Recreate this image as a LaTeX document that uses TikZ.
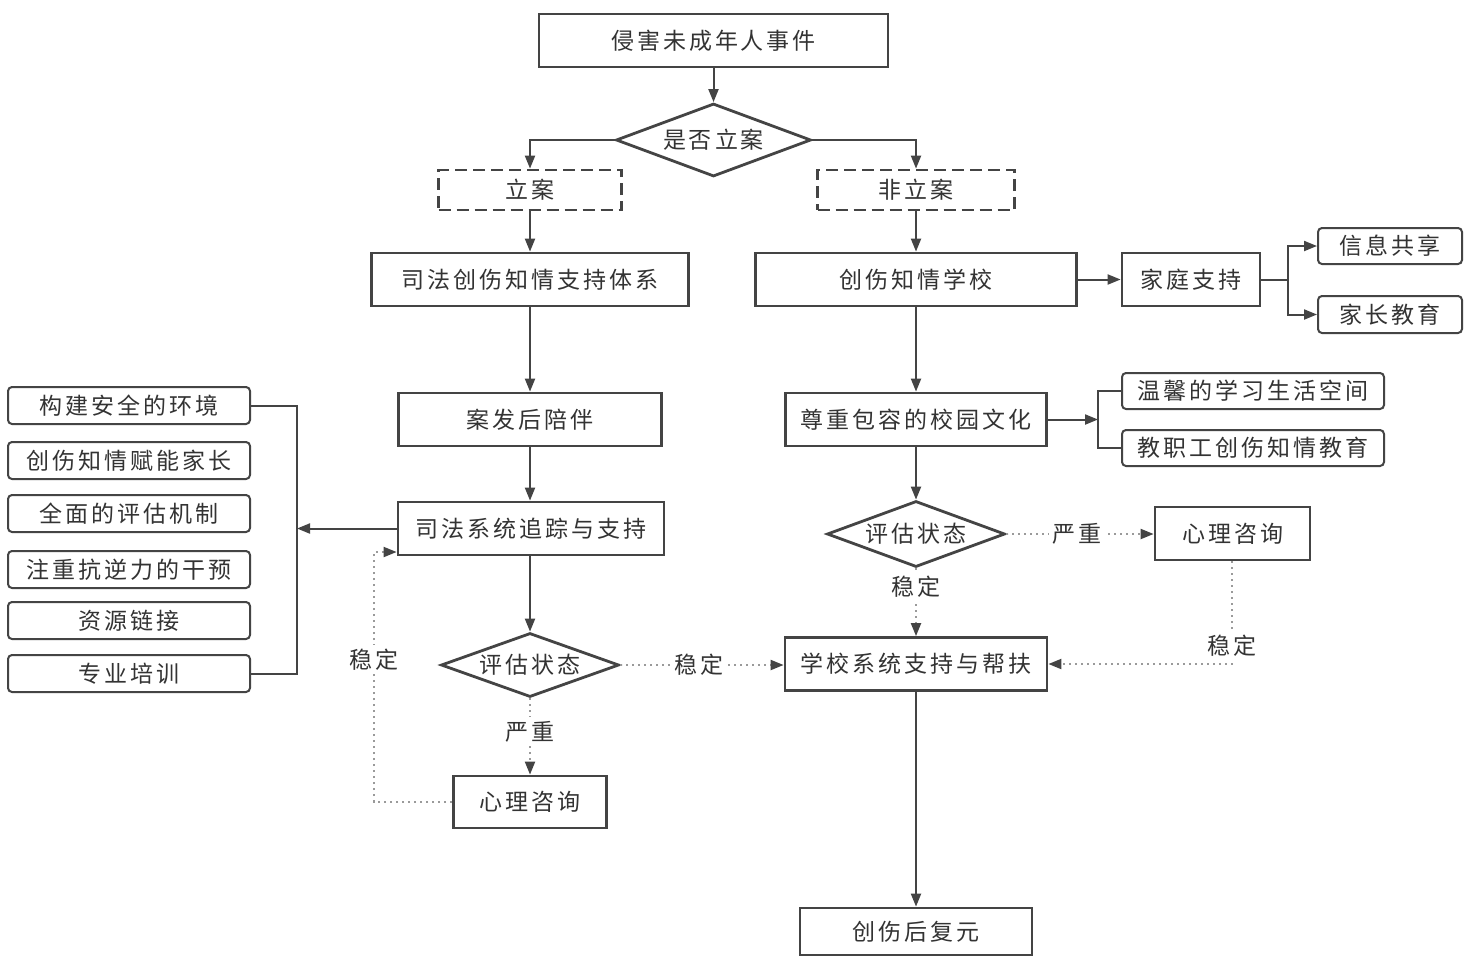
\documentclass[tikz,border=0pt]{standalone}
\usepackage{fontspec}
\newfontfamily\cjk[LetterSpace=13]{Noto Sans CJK SC}
\usetikzlibrary{shapes.geometric,arrows.meta}
\definecolor{ln}{HTML}{444444}
\definecolor{tx}{HTML}{333333}
\definecolor{dt}{HTML}{9A9A9A}
\begin{document}
\begin{tikzpicture}[x=0.5pt,y=-0.5pt,
  every node/.style={font=\cjk\fontsize{11.5}{14}\selectfont, text=tx, inner sep=0pt},
  box/.style={draw=ln, line width=1.4pt, rectangle},
  dbox/.style={draw=ln, line width=1.4pt, rectangle, dash pattern=on 6pt off 3pt},
  rbox/.style={draw=ln, line width=1pt, rectangle, rounded corners=2pt},
  dia/.style={draw=ln, line width=1.4pt, diamond, aspect=2.6},
  arr/.style={draw=ln, line width=1pt, -{Triangle[length=6.5pt,width=5pt]}},
  ln/.style={draw=ln, line width=1pt},
  darr/.style={draw=dt, line width=1pt, dotted, -{Triangle[length=6.5pt,width=5pt,color=ln]}},
  lab/.style={fill=white, inner sep=2pt}
]
\useasboundingbox (0,0) rectangle (1476,970);
\fill[white] (0,0) rectangle (1476,970);

% nodes
\node[box, minimum width=174.5pt, minimum height=26.5pt] (top) at (713.5,40.5) {侵害未成年人事件};
\node[dia, minimum width=97.5pt, minimum height=36.5pt] (q1) at (713.5,140) {是否立案};
\node[dbox, minimum width=91.5pt, minimum height=20pt] (la) at (530,190) {立案};
\node[dbox, minimum width=98.5pt, minimum height=20pt] (fla) at (916,190) {非立案};
\node[box, minimum width=158.5pt, minimum height=26.5pt] (sf) at (530,279.5) {司法创伤知情支持体系};
\node[box, minimum width=160.5pt, minimum height=26.5pt] (xx) at (916,279.5) {创伤知情学校};
\node[box, minimum width=69pt, minimum height=26.5pt] (jt) at (1191,279.5) {家庭支持};
\node[rbox, minimum width=72pt, minimum height=18pt] (xi) at (1390,246) {信息共享};
\node[rbox, minimum width=72pt, minimum height=18.5pt] (jz) at (1390,314.5) {家长教育};
\node[box, minimum width=131.5pt, minimum height=26.5pt] (af) at (530,419.5) {案发后陪伴};
\node[box, minimum width=130.5pt, minimum height=26.5pt] (zz) at (916,419.5) {尊重包容的校园文化};
\node[rbox, minimum width=131pt, minimum height=18pt] (wx) at (1253,391) {温馨的学习生活空间};
\node[rbox, minimum width=131pt, minimum height=18pt] (jzg) at (1253,448) {教职工创伤知情教育};
\node[box, minimum width=133pt, minimum height=26.5pt] (sys) at (531,528.5) {司法系统追踪与支持};

\node[rbox, minimum width=121pt, minimum height=18.5pt] (l1) at (129,405.5) {构建安全的环境};
\node[rbox, minimum width=121pt, minimum height=18.5pt] (l2) at (129,460.5) {创伤知情赋能家长};
\node[rbox, minimum width=121pt, minimum height=18.5pt] (l3) at (129,513.5) {全面的评估机制};
\node[rbox, minimum width=121pt, minimum height=18.5pt] (l4) at (129,569.5) {注重抗逆力的干预};
\node[rbox, minimum width=121pt, minimum height=18.5pt] (l5) at (129,620.5) {资源链接};
\node[rbox, minimum width=121pt, minimum height=18.5pt] (l6) at (129,673.5) {专业培训};

\node[dia, minimum width=89pt, minimum height=32pt] (pg1) at (530,665) {评估状态};
\node[box, minimum width=131pt, minimum height=26.5pt] (sch) at (916,664) {学校系统支持与帮扶};
\node[box, minimum width=76.5pt, minimum height=26pt] (psy1) at (530,802) {心理咨询};
\node[dia, minimum width=89pt, minimum height=33pt] (pg2) at (916,534) {评估状态};
\node[box, minimum width=77.5pt, minimum height=26.5pt] (psy2) at (1232.5,533.5) {心理咨询};
\node[box, minimum width=116pt, minimum height=23.5pt] (fy) at (916,931.5) {创伤后复元};

% main solid connectors
\draw[arr] (top) -- (q1);
\draw[arr] (q1.west) -| (la.north);
\draw[arr] (q1.east) -| (fla.north);
\draw[arr] (la) -- (sf);
\draw[arr] (fla) -- (xx);
\draw[arr] (sf) -- (af);
\draw[arr] (af) -- (af |- sys.north);
\draw[arr] (sys.south -| pg1) -- (pg1);
\draw[arr] (xx) -- (zz);
\draw[arr] (zz) -- (pg2);
\draw[arr] (sch) -- (fy);
\draw[arr] (xx) -- (jt);

% family support fork
\coordinate (fk) at (1288,279.5);
\draw[ln] (jt.east) -- (fk);
\draw[arr] (fk) |- (xi.west);
\draw[arr] (fk) |- (jz.west);

% school culture fork
\coordinate (fk2) at (1098,419.5);
\draw[arr] (zz.east) -- (fk2);
\draw[ln] (fk2) |- (wx.west);
\draw[ln] (fk2) |- (jzg.west);

% left bracket
\coordinate (br) at (297,528.5);
\draw[ln] (l1.east) -| (br) |- (l6.east);
\draw[arr] (sys.west) -- (br);

% dotted connectors
\draw[darr] (pg1.east) -- node[lab, pos=0.48]{稳定} (pg1.east -| sch.west);
\draw[darr] (pg1.south) -- node[lab, pos=0.44]{严重} (psy1.north);
\coordinate (lc1) at (374,802);
\coordinate (lc2) at (374,552);
\draw[darr] (psy1.west) -- (lc1) -- node[lab, pos=0.57]{稳定} (lc2) -- (lc2 -| sys.west);
\draw[darr] (pg2.east) -- node[lab, pos=0.48]{严重} (pg2.east -| psy2.west);
\draw[darr] (pg2.south) -- node[lab, pos=0.27]{稳定} (sch.north);
\coordinate (rc) at (1232,664);
\draw[darr] (psy2.south -| rc) -- node[lab, pos=0.82]{稳定} (rc) -- (sch.east |- rc);
\end{tikzpicture}
\end{document}
